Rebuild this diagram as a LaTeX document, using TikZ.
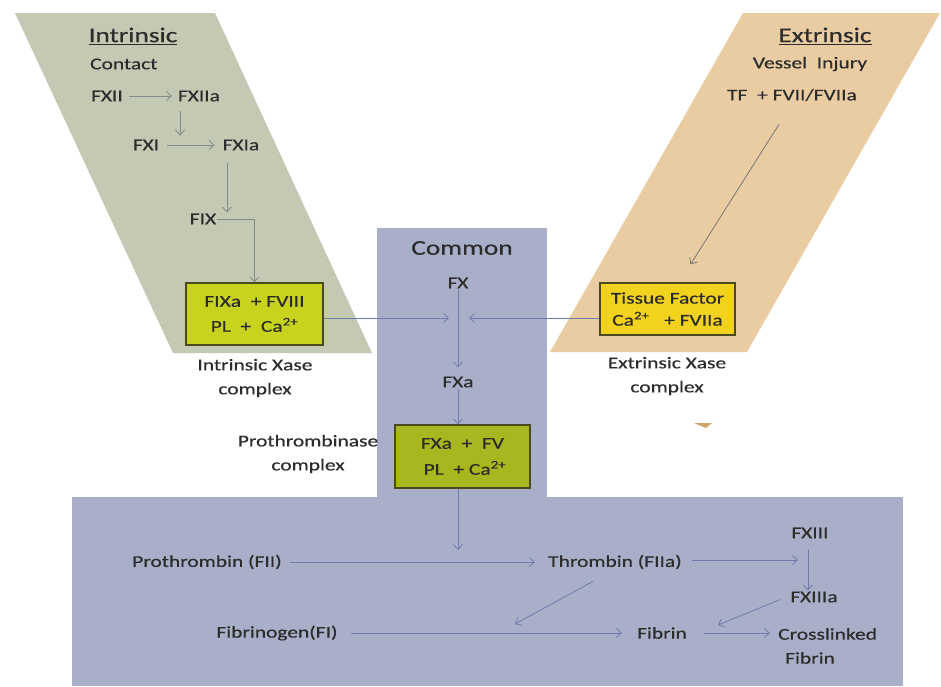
\documentclass[tikz,border=0pt]{standalone}
\usepackage{fontspec}
\setmainfont{Carlito}[FakeStretch=1.3,FakeBold=0.5]
\usetikzlibrary{arrows.meta}
\definecolor{intbg}{HTML}{C4C9B4}
\definecolor{extbg}{HTML}{EACCA2}
\definecolor{combg}{HTML}{A9AFC8}
\definecolor{ixcol}{HTML}{C8D31E}
\definecolor{excol}{HTML}{F1D21C}
\definecolor{prcol}{HTML}{A8B61F}
\definecolor{txt}{HTML}{2C2C2C}
\definecolor{garr}{HTML}{858A88}
\definecolor{barr}{HTML}{6E7DAE}
\definecolor{earr}{HTML}{777777}
\definecolor{bord}{HTML}{4A4A1E}
\definecolor{tanmark}{HTML}{D2A46E}
\tikzset{
 lbl/.style={text=txt, font=\fontsize{16.5}{19}\selectfont, inner sep=1pt},
 lbltwo/.style={text=txt, font=\fontsize{16.5}{24}\selectfont, inner sep=1pt, align=center},
 hd/.style={text=txt, font=\fontsize{21}{24}\selectfont, inner sep=1pt},
 cbox/.style={draw=bord, line width=1.2pt, align=center, text=txt, inner sep=0pt},
 arr/.style={line width=0.8pt, -{Straight Barb[length=5pt,width=9pt]}},
}
\begin{document}
\begin{tikzpicture}[x=1pt,y=-1pt]
\useasboundingbox (0,0) rectangle (941,686);
\fill[white] (0,0) rectangle (941,686);
% backgrounds
\fill[intbg] (15,13) -- (215,13) -- (372,353) -- (173,353) -- cycle;
\fill[extbg] (743,13) -- (940,13) -- (747,352) -- (550,352) -- cycle;
\fill[combg] (377,228) rectangle (547,500);
\fill[combg] (72,497) rectangle (903,686);
\fill[tanmark] (694,423) -- (712,423) -- (706,428) -- cycle;
% intrinsic
\node[hd] (intr) at (133,36) {\underline{Intrinsic}};
\node[lbl,anchor=west] (contact) at (89,64) {Contact};
\node[lbl] (fxii) at (107,96) {FXII};
\node[lbl] (fxiia) at (199,96) {FXIIa};
\node[lbl] (fxi) at (146,145) {FXI};
\node[lbl] (fxia) at (241,145) {FXIa};
\node[lbl] (fix) at (203,219) {FIX};
\node[cbox, fill=ixcol, minimum width=137pt, minimum height=62pt, font=\fontsize{16.5}{25}\selectfont] (ixbox) at (254.5,314) {FIXa~ + FVIII\\PL~~+~ Ca\textsuperscript{2+}};
\node[lbltwo] (ixlab) at (255,378) {Intrinsic Xase\\complex};
% extrinsic
\node[hd] (extr) at (825,36) {\underline{Extrinsic}};
\node[lbl] (vessel) at (810,64) {Vessel~ Injury};
\node[lbl] (tf) at (792,95) {TF~ + FVII/FVIIa};
\node[cbox, fill=excol, minimum width=135pt, minimum height=52pt, font=\fontsize{16.5}{22}\selectfont] (exbox) at (667.5,309) {Tissue Factor\\Ca\textsuperscript{2+}~~ + FVIIa};
\node[lbltwo] (exlab) at (667,376) {Extrinsic Xase\\complex};
% common
\node[hd] (common) at (462,248) {Common};
\node[lbl] (fx) at (458,283) {FX};
\node[lbl] (fxa) at (458,382) {FXa};
\node[cbox, fill=prcol, minimum width=135pt, minimum height=63pt, font=\fontsize{16.5}{26}\selectfont] (prbox) at (462.5,456.5) {FXa~ + ~FV\\~PL~ + Ca\textsuperscript{2+}};
\node[lbltwo] (prlab) at (308,454) {Prothrombinase\\complex};
% bottom
\node[lbl] (prot) at (207,562) {Prothrombin (FII)};
\node[lbl] (thr) at (615,562) {Thrombin (FIIa)};
\node[lbl] (fxiii) at (810,533) {FXIII};
\node[lbl] (fxiiia) at (814,597) {FXIIIa};
\node[lbl] (fbg) at (277,633) {Fibrinogen(FI)};
\node[lbl] (fib) at (662,633) {Fibrin};
\node[lbltwo, align=left, anchor=west] (cross) at (777,646) {Crosslinked\\\hspace*{7pt}Fibrin};
% coordinates
\coordinate (jl) at (449,318);
\coordinate (jr) at (469,318);
\coordinate (pdown) at (458,550);
\coordinate (jx) at (798,560);
% intrinsic arrows
\draw[arr,garr,shorten <=5pt,shorten >=5pt] (fxii) -- (fxiia);
\draw[arr,garr] ([shift={(-19,8)}]fxiia.south) -- ([shift={(-19,33)}]fxiia.south);
\draw[arr,garr,shorten <=7pt,shorten >=7pt] (fxi) -- (fxia);
\draw[arr,garr] ([shift={(-14,11)}]fxia.south) -- ([shift={(-14,0)}]fxia.south |- fix.north);
\draw[arr,garr] (fix.east) -| (ixbox.north);
% extrinsic arrow
\draw[arr,earr] ([shift={(-13,22)}]tf.south) -- ([shift={(23,-18)}]exbox.north);
% common arrows
\draw[arr,barr] ([shift={(0,4)}]ixbox.east) -- (jl);
\draw[arr,barr] ([shift={(0,9)}]exbox.west) -- (jr);
\draw[arr,barr,shorten >=8pt] (fx) -- (fxa);
\draw[arr,barr] (fxa.south) -- (fxa.south |- prbox.north);
\draw[arr,barr] (prbox.south -| fxa) -- (pdown);
% bottom arrows
\draw[arr,barr,shorten <=7pt,shorten >=12pt] (prot) -- (thr);
\draw[arr,barr] ([shift={(9,-2)}]thr.east) -- (jx);
\draw[arr,barr] ([shift={(-2,10)}]fxiii.south) -- ([shift={(-2,0)}]fxiii.south |- fxiiia.north);
\draw[arr,barr] ([shift={(-34,-4)}]fxiiia.south) -- ([shift={(56,-1)}]fib.north);
\draw[arr,barr] ([shift={(-22,11)}]thr.south) -- ([shift={(-147,-2)}]fib.north);
\draw[arr,barr,shorten <=12pt,shorten >=14pt] (fbg) -- (fib);
\draw[arr,barr,shorten <=16pt,shorten >=7pt] (fib.east) -- (fib.east -| cross.west);
\end{tikzpicture}
\end{document}
